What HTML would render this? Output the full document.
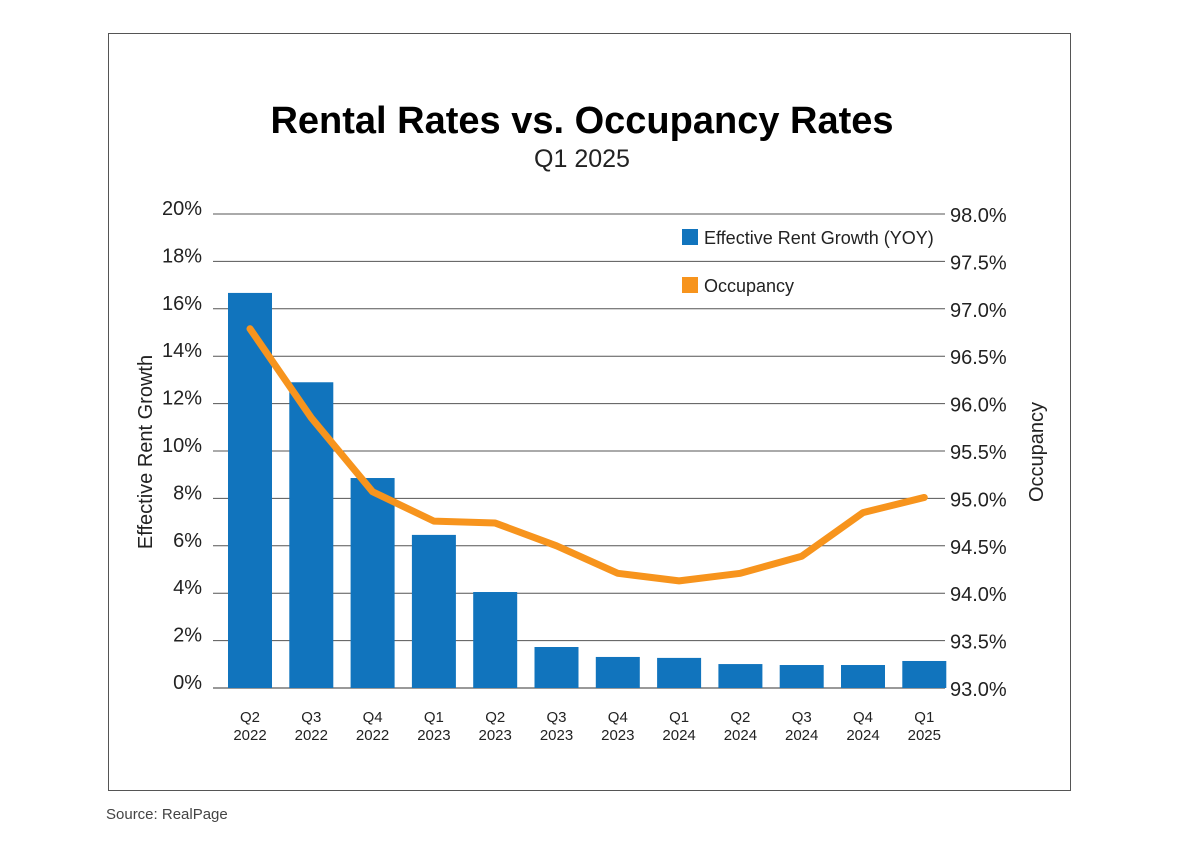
<!DOCTYPE html>
<html><head><meta charset="utf-8"><style>
body{margin:0;background:#fff;width:1178px;height:844px;overflow:hidden;font-family:"Liberation Sans",sans-serif;}
svg text{font-family:"Liberation Sans",sans-serif;fill:#222;}
</style></head><body>
<svg id="chart" width="1178" height="844">
<rect x="108.5" y="33.5" width="962" height="757" fill="none" stroke="#555" stroke-width="1"/>
<text x="582" y="133" text-anchor="middle" font-size="38" font-weight="bold" style="fill:#000">Rental Rates vs. Occupancy Rates</text>
<text x="582" y="167" text-anchor="middle" font-size="25">Q1 2025</text>
<g id="grid"></g><g id="bars"></g><g id="line"></g><g id="axes"></g>
<text transform="translate(152,452) rotate(-90)" text-anchor="middle" font-size="20">Effective Rent Growth</text>
<text transform="translate(1043,452) rotate(-90)" text-anchor="middle" font-size="20">Occupancy</text>
<rect x="682" y="229" width="16" height="16" fill="#1174bd"/>
<text x="704" y="244" font-size="18">Effective Rent Growth (YOY)</text>
<rect x="682" y="277" width="16" height="16" fill="#f7941d"/>
<text x="704" y="292" font-size="18">Occupancy</text>
<text x="106" y="819" font-size="15" style="fill:#444">Source: RealPage</text>
</svg>
<script>
const quarters=["Q2","Q3","Q4","Q1","Q2","Q3","Q4","Q1","Q2","Q3","Q4","Q1"];
const years=["2022","2022","2022","2023","2023","2023","2023","2024","2024","2024","2024","2025"];
const rentGrowth=[16.67,12.9,8.86,6.46,4.05,1.73,1.31,1.27,1.01,0.97,0.97,1.14];
const occupancy=[96.79,95.85,95.07,94.76,94.74,94.5,94.21,94.13,94.21,94.39,94.85,95.01];
const leftTicks=["0%","2%","4%","6%","8%","10%","12%","14%","16%","18%","20%"];
const rightTicks=["93.0%","93.5%","94.0%","94.5%","95.0%","95.5%","96.0%","96.5%","97.0%","97.5%","98.0%"];
const NS="http://www.w3.org/2000/svg";
const y0=688,y1=214,xL=213,xR=945;
const yL=v=>y0-(v/20)*(y0-y1);
const yR=v=>y0-((v-93)/5)*(y0-y1);
const xC=i=>250+i*61.3;
function mk(t,a,p){const e=document.createElementNS(NS,t);for(const k in a)e.setAttribute(k,a[k]);document.getElementById(p).appendChild(e);return e;}
leftTicks.forEach((t,i)=>{const y=y0-i*(y0-y1)/10;
 const g=mk('line',{x1:xL,x2:xR,y1:y,y2:y,stroke:i==0?'#333':'#555','stroke-width':1},'grid');
 
 
 const a=mk('text',{x:202,y:y+1,'text-anchor':'end','font-size':20},'axes');a.textContent=t;
 
 
 const b=mk('text',{x:950,y:y+8,'font-size':20},'axes');b.textContent=rightTicks[i];
 
 
});
rentGrowth.forEach((v,i)=>{const r=mk('rect',{x:xC(i)-22,y:yL(v),width:44,height:y0-yL(v),fill:'#1174bd'},'bars');
 
 
 const t1=mk('text',{x:xC(i),y:722,'text-anchor':'middle','font-size':15},'axes');t1.textContent=quarters[i];
 
 
 const t2=mk('text',{x:xC(i),y:740,'text-anchor':'middle','font-size':15},'axes');t2.textContent=years[i];
 
 
});
const pl=mk('polyline',{points:occupancy.map((v,i)=>xC(i)+','+yR(v)).join(' '),fill:'none',stroke:'#f7941d','stroke-width':7,'stroke-linejoin':'round','stroke-linecap':'round'},'line');


</script>
</body></html>
